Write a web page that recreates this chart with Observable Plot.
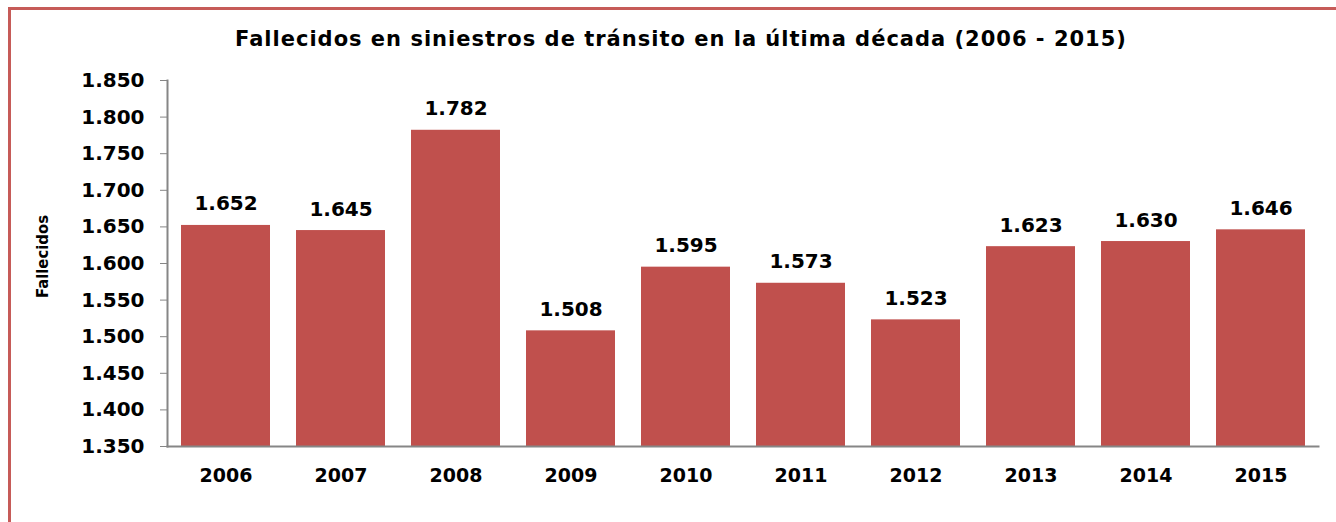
<!DOCTYPE html>
<html>
<head>
<meta charset="utf-8">
<script src="https://cdn.jsdelivr.net/npm/d3@7"></script>
<script src="https://cdn.jsdelivr.net/npm/@observablehq/plot@0.6"></script>
<style>
  html, body { margin: 0; padding: 0; background: #fff; }
  #wrap { position: relative; width: 1336px; height: 522px; overflow: hidden; }
  #border { position: absolute; left: 8px; top: 7px; width: 1400px; height: 600px;
            border: 3px solid #C65B58; box-sizing: border-box; }
  #title { position: absolute; left: 0; width: 1362px; top: 27px; text-align: center;
           font-family: "DejaVu Sans", sans-serif; font-weight: 700; font-size: 21px;
           letter-spacing: 1px; color: #000; }
  #chart { position: absolute; left: 0; top: 0; }
</style>
</head>
<body>
<div id="wrap">
  <div id="border"></div>
  <div id="chart"></div>
  <div id="title">Fallecidos en siniestros de tránsito en la última década (2006 - 2015)</div>
</div>
<script>
const years = ["2006", "2007", "2008", "2009", "2010", "2011", "2012", "2013", "2014", "2015"];
const deaths = [1652, 1645, 1782, 1508, 1595, 1573, 1523, 1623, 1630, 1646];
const yTicks = [1350, 1400, 1450, 1500, 1550, 1600, 1650, 1700, 1750, 1800, 1850];
const yLabel = "Fallecidos";

const data = years.map((y, i) => ({year: y, value: deaths[i]}));
const es = d3.formatLocale({decimal: ",", thousands: ".", grouping: [3], currency: ["", " €"]});
const fmt = es.format(",d");
const numFont = "DejaVu Sans";

const plot = Plot.plot({
  width: 1336,
  height: 522,
  marginLeft: 167,
  marginRight: 18,
  marginTop: 80,
  marginBottom: 76,
  style: {background: "transparent", overflow: "visible"},
  x: {domain: years, paddingInner: 0.227, paddingOuter: 0.113, label: null},
  y: {domain: [1350, 1850], label: null},
  marks: [
    Plot.barY(data, {x: "year", y1: 1350, y2: "value", fill: "#C0504D"}),
    Plot.axisY({ticks: yTicks, tickFormat: fmt, tickSize: 7, tickPadding: 16, stroke: "#868686",
                fontFamily: numFont, fontWeight: "bold", fontSize: 20, fill: "#000", label: null}),
    Plot.axisX({tickSize: 0, tickPadding: 22, fontFamily: numFont, fontWeight: "bold", fontSize: 19,
                fill: "#000", label: null}),
    Plot.frame({anchor: "left", stroke: "#868686", strokeWidth: 2}),
    Plot.frame({anchor: "bottom", stroke: "#868686", strokeWidth: 2}),
    Plot.text(data, {x: "year", y: "value", text: d => fmt(d.value), dy: -15, lineAnchor: "bottom",
                     fontFamily: numFont, fontWeight: "bold", fontSize: 20, fill: "#000"}),
    Plot.text([yLabel], {text: d => d, frameAnchor: "left", textAnchor: "middle", lineAnchor: "middle",
                         rotate: -90, dx: -125, dy: -7,
                         fontFamily: "DejaVu Sans Condensed", fontWeight: "bold", fontSize: 16.5, fill: "#000"})
  ]
});
document.getElementById("chart").appendChild(plot);
</script>
</body>
</html>
